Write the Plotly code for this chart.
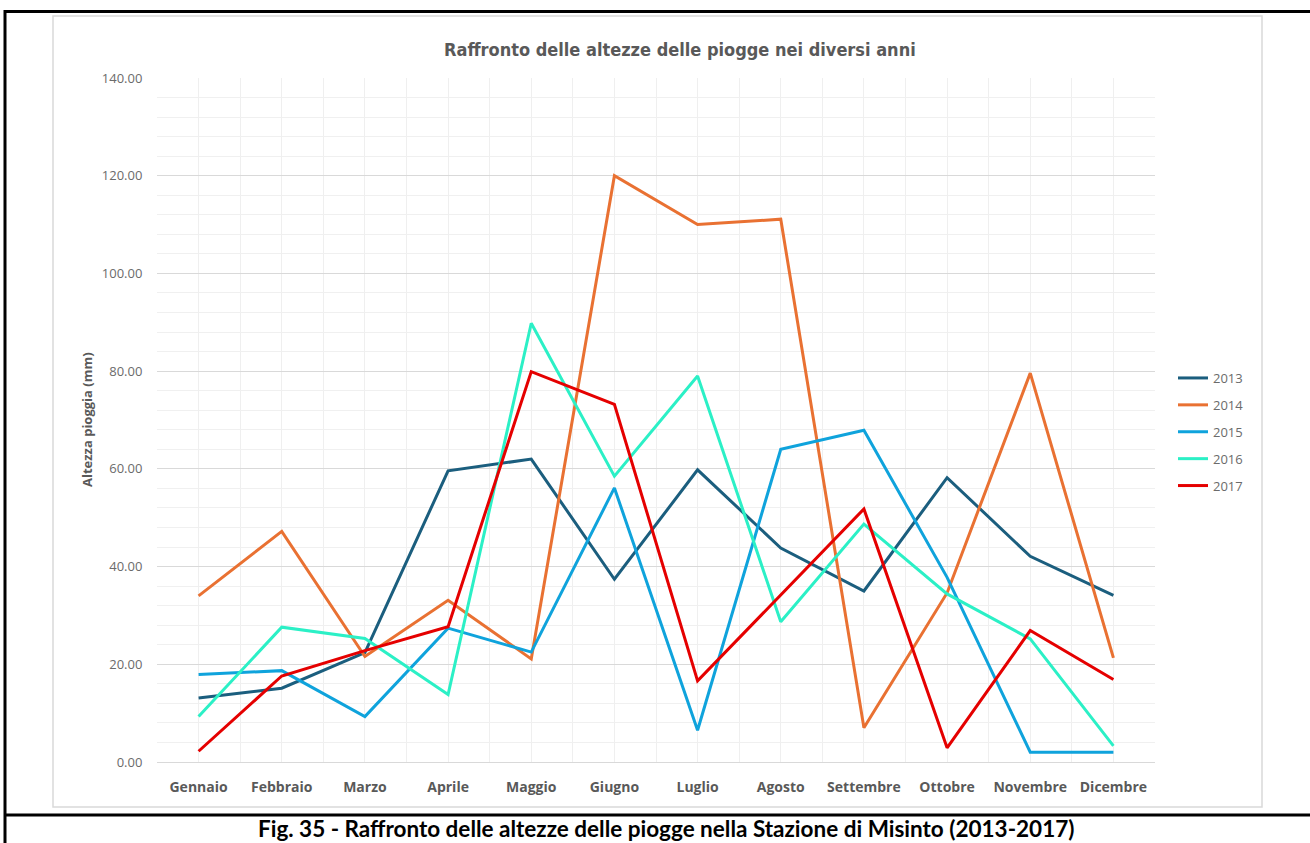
import plotly.graph_objects as go

mesi = ["Gennaio", "Febbraio", "Marzo", "Aprile", "Maggio", "Giugno",
        "Luglio", "Agosto", "Settembre", "Ottobre", "Novembre", "Dicembre"]

anni = ["2013", "2014", "2015", "2016", "2017"]

v2013 = [13.1, 15.1, 22.4, 59.6, 62.0, 37.4, 59.8, 43.8, 35.0, 58.2, 42.1, 34.1]
v2014 = [34.0, 47.2, 21.6, 33.1, 21.1, 120.0, 110.0, 111.1, 7.0, 34.6, 79.6, 21.3]
v2015 = [17.9, 18.7, 9.3, 27.4, 22.5, 56.1, 6.5, 64.0, 67.9, 37.8, 2.0, 2.0]
v2016 = [9.3, 27.6, 25.3, 13.8, 89.8, 58.5, 79.0, 28.7, 48.7, 34.4, 25.2, 3.3]
v2017 = [2.2, 17.6, 22.8, 27.7, 79.9, 73.2, 16.6, 34.2, 51.8, 2.9, 26.9, 16.9]

serie = [v2013, v2014, v2015, v2016, v2017]
colori = ["#1B5E7E", "#E97132", "#0FA3DC", "#2BF0C6", "#E50000"]

titolo = "Raffronto delle altezze delle piogge nei diversi anni"
asse_y = "Altezza pioggia (mm)"
didascalia = "Fig. 35 - Raffronto delle altezze delle piogge nella Stazione di Misinto (2013-2017)"

W, H = 1310, 843
L, R, T, B = 157, 155, 78, 81
PW = W - L - R
PH = H - T - B


def px(x):
    return (x - L) / PW


def py(y):
    return (H - B - y) / PH


x_pos = list(range(len(mesi)))

fig = go.Figure()
for nome, vals, col in zip(anni, serie, colori):
    fig.add_trace(go.Scatter(
        x=x_pos, y=vals, name=nome, mode="lines",
        line=dict(color=col, width=3),
        legendgroup=nome,
    ))

grey_txt = "#6b6b6b"
fig.update_layout(
    width=W, height=H,
    margin=dict(l=L, r=R, t=T, b=B, pad=0),
    paper_bgcolor="white", plot_bgcolor="white",
    font=dict(family="Open Sans, Liberation Sans, sans-serif", color=grey_txt, size=13),
    showlegend=True,
    legend=dict(
        x=px(1173), y=py(363), xanchor="left", yanchor="top",
        font=dict(size=13, color=grey_txt, family="Open Sans, sans-serif"),
        tracegroupgap=7, bgcolor="rgba(0,0,0,0)", traceorder="grouped",
        itemwidth=30,
    ),
    xaxis=dict(
        range=[-0.5, len(mesi) - 0.5],
        tickmode="array", tickvals=x_pos, ticktext=mesi,
        showgrid=True, gridcolor="#efefef", gridwidth=1,
        minor=dict(tickmode="array",
                   tickvals=[i - 0.5 for i in range(len(mesi) + 1)],
                   showgrid=True, gridcolor="#efefef", gridwidth=1),
        ticks="outside", ticklen=12, tickcolor="rgba(0,0,0,0)",
        tickfont=dict(family="Open Sans, sans-serif", size=14, color="#595959", weight="bold"),
        showline=True, linecolor="#d9d9d9", linewidth=1,
        zeroline=False, fixedrange=True,
    ),
    yaxis=dict(
        range=[0, 140], dtick=20, tick0=0, tickformat=".2f",
        showgrid=True, gridcolor="#d9d9d9", gridwidth=1,
        minor=dict(dtick=4, tick0=0, showgrid=True, gridcolor="#f0f0f0", gridwidth=1),
        ticks="outside", ticklen=11, tickcolor="rgba(0,0,0,0)",
        tickfont=dict(family="Open Sans, sans-serif", size=13, color=grey_txt),
        zeroline=False, showline=False, fixedrange=True,
    ),
)

shapes = [
    # chart box
    dict(type="rect", xref="paper", yref="paper",
         x0=px(53), x1=px(1262), y0=py(807), y1=py(16),
         line=dict(color="#d9d9d9", width=1.5), fillcolor="rgba(0,0,0,0)", layer="below"),
    # black table borders
    dict(type="line", xref="paper", yref="paper",
         x0=px(4), x1=px(1312), y0=py(11.5), y1=py(11.5),
         line=dict(color="black", width=3)),
    dict(type="line", xref="paper", yref="paper",
         x0=px(5), x1=px(5), y0=py(10), y1=py(845),
         line=dict(color="black", width=3)),
    dict(type="line", xref="paper", yref="paper",
         x0=px(4), x1=px(1312), y0=py(815), y1=py(815),
         line=dict(color="black", width=3)),
]
fig.update_layout(shapes=shapes)

fig.add_annotation(
    xref="paper", yref="paper", x=px(680), y=py(50),
    text="<b>" + titolo + "</b>", showarrow=False, xanchor="center", yanchor="middle",
    font=dict(family="Liberation Sans Narrow, DejaVu Sans Condensed, Roboto, sans-serif",
              size=18, color="#595959"),
)
fig.add_annotation(
    xref="paper", yref="paper", x=px(87), y=py(420),
    text="<b>" + asse_y + "</b>", showarrow=False, textangle=-90,
    xanchor="center", yanchor="middle",
    font=dict(family="Open Sans, sans-serif", size=13, color="#595959"),
)
fig.add_annotation(
    xref="paper", yref="paper", x=px(666), y=py(829),
    text="<b>" + didascalia + "</b>", showarrow=False,
    xanchor="center", yanchor="middle",
    font=dict(family="Lato, Open Sans, sans-serif", size=22.5, color="black"),
)

fig.write_html(
    "out.html",
    config={"displayModeBar": False, "staticPlot": True},
    post_script="document.body.style.margin='0px';document.body.style.overflow='hidden';",
)
